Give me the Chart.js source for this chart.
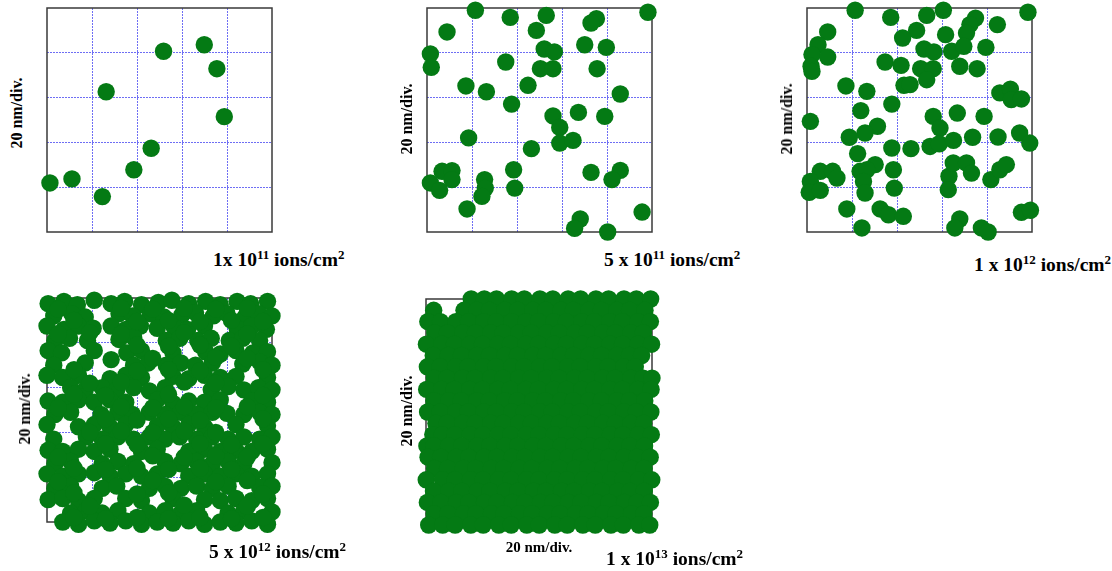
<!DOCTYPE html>
<html>
<head>
<meta charset="utf-8">
<script src="https://cdn.jsdelivr.net/npm/chart.js@4"></script>
<style>
  body { margin: 0; background: #fff; width: 1112px; height: 571px; position: relative; overflow: hidden;
         font-family: "Liberation Serif", "Times New Roman", serif; font-weight: bold; color: #000; }
  .panel { position: absolute; }
  .ylab { position: absolute; font-size: 16px; white-space: nowrap; transform: translate(-50%, -50%) rotate(-90deg); }
  .xlab { position: absolute; font-size: 15px; white-space: nowrap; transform: translate(-50%, -50%); }
  .cap { position: absolute; font-size: 19.5px; white-space: nowrap; line-height: 1; }
  .cap sup { font-size: 13px; vertical-align: 7px; line-height: 0; }
</style>
</head>
<body>

<div class="panel" id="w1"><canvas id="c1"></canvas></div>
<div class="panel" id="w2"><canvas id="c2"></canvas></div>
<div class="panel" id="w3"><canvas id="c3"></canvas></div>
<div class="panel" id="w4"><canvas id="c4"></canvas></div>
<div class="panel" id="w5"><canvas id="c5"></canvas></div>

<div class="ylab" style="left:17px; top:113px;">20 nm/div.</div>
<div class="ylab" style="left:407px; top:119px;">20 nm/div.</div>
<div class="ylab" style="left:787px; top:119px;">20 nm/div.</div>
<div class="ylab" style="left:25px; top:409px;">20 nm/div.</div>
<div class="ylab" style="left:407px; top:411px;">20 nm/div.</div>
<div class="xlab" style="left:539px; top:547px;">20 nm/div.</div>

<div class="cap" style="left:213px; top:250px;">1x 10<sup>11</sup> ions/cm<sup>2</sup></div>
<div class="cap" style="left:604px; top:250px;">5 x 10<sup>11</sup> ions/cm<sup>2</sup></div>
<div class="cap" style="left:974px; top:255px;">1 x 10<sup>12</sup> ions/cm<sup>2</sup></div>
<div class="cap" style="left:209px; top:542px;">5 x 10<sup>12</sup> ions/cm<sup>2</sup></div>
<div class="cap" style="left:606px; top:549px;">1 x 10<sup>13</sup> ions/cm<sup>2</sup></div>

<script>
// ion impact positions, nm (0-100 box, 20 nm/div)
var dose1e11 = [
  [1.3, 21.9], [11.1, 23.7], [24.6, 15.8], [26.3, 62.6], [38.6, 27.8],
  [46.3, 37.4], [51.8, 80.7], [69.9, 83.6], [75.5, 72.9], [78.8, 51.5]
];

var dose5e11 = [
  [21.5, 99], [8.9, 89.3], [37.0, 95.8], [53.0, 96.7], [48.6, 90.0], [75.3, 95.2], [72.9, 93.3],
  [98.2, 98.1], [1.5, 79.5], [1.9, 73.5], [70.1, 83.6], [79.7, 82.4], [52.1, 81.7], [56.6, 80.4],
  [35.0, 75.9], [50.4, 72.9], [56.0, 72.9], [75.6, 72.9], [17.3, 65.2], [26.4, 62.6], [44.9, 65.5],
  [85.9, 61.6], [37.6, 57.1], [56.0, 51.8], [67.3, 53.4], [79.0, 51.6], [59.0, 46.7], [18.5, 42.0],
  [59.0, 39.7], [64.9, 40.9], [46.4, 37.2], [1.5, 21.9], [6.7, 27.1], [11.1, 27.4], [11.1, 23.4],
  [5.6, 18.6], [25.6, 23.4], [25.9, 19.6], [24.4, 15.9], [38.5, 27.8], [39.0, 19.6], [17.8, 10.3],
  [72.9, 26.6], [85.9, 27.5], [82.2, 23.4], [95.6, 8.9], [68.1, 5.8], [65.6, 1.6], [80.3, 0]
];

var dose1e12 = [
  [21.4, 99], [37.2, 95.8], [53.2, 96.7], [60.6, 99], [98.2, 98.1], [9.2, 89.3], [48.7, 90.0],
  [42.5, 86.6], [74.9, 95.5], [72.4, 92.6], [70.9, 88.8], [84.6, 92.6], [61.6, 88.1], [4.9, 83.6],
  [2.2, 79.2], [9.2, 78.1], [1.8, 74.0], [2.2, 71.7], [52.0, 81.7], [56.4, 80.4], [64.3, 80.7],
  [69.7, 82.9], [79.5, 82.4], [34.7, 75.9], [41.8, 74.4], [50.5, 72.9], [56.1, 72.9], [67.9, 74.0],
  [75.6, 72.9], [53.2, 68.0], [17.3, 65.2], [26.6, 62.8], [43.1, 65.5], [45.8, 65.8], [85.7, 62.1],
  [90.4, 63.8], [90.8, 59.1], [95.3, 59.4], [37.7, 57.1], [23.9, 54.2], [1.5, 49.4], [56.1, 51.6],
  [59.1, 46.4], [66.8, 53.1], [78.7, 51.6], [31.3, 47.2], [25.8, 44.2], [18.8, 42.3], [54.7, 38.2],
  [58.8, 39.4], [65.1, 40.9], [73.6, 42.3], [84.9, 42.4], [94.5, 44.2], [99, 39.7], [37.7, 37.5],
  [46.2, 37.2], [22.5, 35.0], [5.9, 27.1], [11.4, 27.1], [13.3, 24.1], [1.5, 22.6], [1.0, 17.7],
  [5.9, 18.6], [23.6, 27.1], [30.3, 30.1], [26.6, 27.8], [25.1, 22.6], [25.8, 17.4], [38.4, 27.8],
  [38.8, 19.6], [17.7, 10.3], [32.5, 10.3], [36.2, 7.7], [42.8, 7.0], [24.4, 1.8], [63.1, 24.9],
  [65.0, 30.8], [70.9, 30.8], [73.1, 26.3], [62.8, 18.9], [81.7, 23.4], [85.7, 27.8], [88.6, 30.1],
  [95.3, 8.8], [99.3, 9.7], [67.9, 5.8], [65.7, 1.8], [77.5, 1.8], [80.5, 0]
];

var dose5e12 = [
  [0.5, 97.5], [7.5, 98.5], [13.5, 97], [21, 99], [28.5, 97.5], [34.5, 98.5], [42, 97], [49.5, 98], [55.5, 99], [63, 97.5], [70.5, 98.5], [77, 97], [84.5, 98.5], [90.5, 97.5], [98, 98.5],
  [3, 92], [11, 93], [17, 91.5], [32, 93], [38, 92], [46, 93], [52, 91.5], [60, 92.5], [66, 93.5], [74, 92], [80, 93], [88, 91.5], [94, 93], [100, 92],
  [0, 87.5], [7.5, 86], [14, 87.5], [20.5, 86.5], [28.5, 87.5], [35, 86], [41.5, 87.5], [49, 86.5], [56.5, 87], [62.5, 86], [70, 87.5], [84.5, 86.5], [91, 87.5], [97.5, 86],
  [3.5, 81], [10, 82], [18, 81], [32, 81.5], [38.5, 82.5], [53, 81], [59, 82], [67, 81], [73, 82], [81, 81], [87, 82], [94.5, 81],
  [0.5, 76.5], [6.5, 75.5], [21, 76.5], [35.5, 75.5], [42, 76.5], [56, 75.5], [70.5, 76], [77, 75], [84, 76.5], [91.5, 75.5], [98, 76],
  [3, 70], [17, 71], [28.5, 72.5], [38.5, 70], [45, 71], [53, 70], [59.5, 71], [66, 70], [73.5, 71], [87, 70.5], [94.5, 71.5], [100, 70],
  [0, 65.5], [7, 64.5], [14, 65.5], [28, 64], [35, 65.5], [42, 64.5], [56, 65], [63, 64], [70, 65.5], [77, 64.5], [84, 65], [98, 64.5],
  [10.5, 60], [17, 59], [24.5, 60], [31, 59], [38.5, 60], [45.5, 58.5], [52.5, 60], [73, 59], [80.5, 60.5], [87.5, 59], [94, 60], [100, 59],
  [0.5, 54], [7, 53.5], [14, 54.5], [21, 53.5], [28, 54.5], [35, 53.5], [49, 54.5], [56, 53], [63, 54], [70, 53.5], [77, 54.5], [91, 54], [98, 53.5],
  [3.5, 48], [10.5, 49], [24, 48], [31.5, 49], [38, 48], [45.5, 49], [52.5, 48], [59.5, 49], [66.5, 48], [73.5, 49], [80, 48.5], [87.5, 48], [94.5, 49], [100, 48],
  [0, 43.5], [14, 42.5], [21, 43.5], [28, 42.5], [35, 43.5], [49, 43], [56, 42.5], [63, 43.5], [70, 42.5], [84, 43.5], [98, 43],
  [3, 37], [17.5, 38], [24.5, 37], [31.5, 38], [38.5, 37], [45.5, 38], [52.5, 37], [59, 38], [66.5, 37], [73.5, 38], [80.5, 37], [87.5, 38], [94.5, 37], [100, 38],
  [0.5, 32], [7, 31.5], [14, 32.5], [21, 31.5], [28, 32.5], [42, 31.5], [49, 32.5], [63, 31.5], [70, 32.5], [77, 31.5], [84, 32], [91, 31.5], [98, 32.5],
  [3.5, 26], [10.5, 27], [24.5, 26], [31.5, 27], [38.5, 26], [52.5, 27], [59.5, 26], [66.5, 27], [73.5, 26], [80.5, 27], [87.5, 26], [100, 26.5],
  [0, 21.5], [7, 20.5], [14, 21.5], [21, 22], [28, 20.5], [35, 21.5], [42, 20.5], [49, 21.5], [63, 20.5], [70, 21.5], [77, 20.5], [84, 21.5], [91, 20.5], [98, 21.5],
  [3.5, 15], [10.5, 16], [24.5, 15], [31, 16], [45.5, 15], [52.5, 16], [59.5, 15], [66.5, 16], [73.5, 15], [80.5, 16], [94.5, 15.5], [100, 16],
  [0.5, 10], [7, 10.5], [14, 9.5], [21, 10.5], [35, 10.5], [42, 9.5], [56, 10.5], [70, 10], [77, 9.5], [84, 10.5], [91, 9.5], [98, 10.5],
  [10.5, 4], [17.5, 5], [24.5, 4], [31.5, 5], [45.5, 4], [52.5, 5], [59.5, 4], [66.5, 5], [80.5, 4], [87.5, 5], [100, 4.5],
  [7, 0], [14, -1], [21, 0.5], [28, -0.5], [35, 0.5], [42, -1], [49, 0], [56, -0.5], [63, 0.5], [70, -1], [77, 0], [84, -0.5], [91, 0.5], [98, -1],
  // in-between impacts
  [5, 95], [33, 95.5], [47, 95], [61, 95.5], [75, 95], [89, 95.5],
  [12, 90], [40, 89.5], [54, 90], [68, 89.5], [82, 90], [96, 89.5],
  [5, 84], [19, 84.5], [33, 84], [61, 84.5], [89, 84],
  [40, 79], [54, 78.5], [68, 79], [82, 78.5],
  [47, 73], [75, 73.5], [89, 73],
  [12, 68], [40, 67.5], [54, 68], [68, 67.5], [96, 68],
  [19, 62], [33, 62.5], [61, 62.5], [75, 62],
  [12, 57], [26, 56.5], [54, 57], [96, 56.5],
  [5, 51], [33, 51.5], [47, 51], [61, 51.5], [75, 51], [89, 51.5],
  [26, 46], [40, 45.5], [54, 46], [68, 45.5], [96, 46],
  [19, 40], [33, 40.5], [47, 40], [61, 40.5], [75, 40],
  [26, 35], [40, 34.5], [68, 35], [82, 34.5], [96, 35],
  [5, 29], [47, 29.5], [61, 29], [75, 29.5], [89, 29],
  [12, 24], [26, 23.5], [40, 24], [54, 23.5], [68, 24], [82, 23.5],
  [5, 18], [47, 18.5], [75, 18], [89, 18.5],
  [12, 13], [40, 12.5], [54, 13], [96, 12.5],
  [19, 7], [61, 7.5], [89, 7],
  [12, 2], [26, 1.5], [40, 2], [54, 1.5], [68, 2], [82, 1.5], [96, 2]
];

// 1e13: rows of [y, x, x, ...]
var dose1e13 = [
  [100, 20, 25.8, 31.2, 37.9, 43.5, 50.4, 56.1, 62.9, 68.4, 75.2, 80.8, 87.6, 93.1, 99.4],
  [95, 3.4, 16.8, 22.5, 28.1, 34.9, 40.6, 47.3, 53.0, 59.8, 65.2, 72.1, 77.6, 84.5, 90.1, 96.9],
  [90, 0.8, 6.4, 13.2, 18.8, 25.6, 31.1, 37.9, 44.2, 49.8, 56.6, 62.1, 68.9, 74.5, 81.4, 86.9, 93.8, 99.3],
  [85, 3.9, 9.5, 16.3, 21.9, 28.7, 34.2, 41.1, 46.6, 53.5, 59.0, 65.9, 71.4, 78.3, 83.8, 90.7, 96.2],
  [80, 0.2, 7.1, 12.6, 19.5, 25.0, 31.9, 37.4, 44.3, 49.8, 56.7, 62.2, 69.1, 74.6, 81.5, 87.0, 93.9, 99.8],
  [75, 3.2, 9.9, 15.7, 22.6, 28.1, 35.0, 40.5, 47.4, 52.9, 59.8, 65.3, 72.2, 77.7, 84.6, 90.1, 95.4],
  [70, 0.6, 6.2, 13.1, 18.6, 25.5, 31.0, 37.9, 43.4, 50.3, 55.8, 62.7, 68.2, 75.1, 80.6, 87.5, 92.6],
  [65, 3.7, 9.3, 16.2, 21.7, 28.6, 34.1, 41.0, 46.5, 53.4, 58.9, 65.8, 71.3, 78.2, 83.7, 90.6, 96.1, 100],
  [60, 0.3, 7.0, 12.5, 19.4, 24.9, 31.8, 37.3, 44.2, 49.7, 56.6, 62.1, 69.0, 74.5, 81.4, 86.9, 93.8, 99.6],
  [55, 3.5, 10.1, 15.6, 22.5, 28.0, 34.9, 40.4, 47.3, 52.8, 59.7, 65.2, 72.1, 77.6, 84.5, 90.0, 96.8],
  [50, 0.7, 6.3, 13.2, 18.7, 25.6, 31.1, 38.0, 43.5, 50.4, 55.9, 62.8, 68.3, 75.2, 80.7, 87.6, 93.1, 99.5],
  [45, 4.4, 9.4, 16.3, 21.8, 28.7, 34.2, 41.1, 46.6, 53.5, 59.0, 65.9, 71.4, 78.3, 83.8, 90.7, 96.3],
  [40, 3.0, 7.2, 12.7, 19.6, 25.1, 32.0, 37.5, 44.4, 49.9, 56.8, 62.3, 69.2, 74.7, 81.6, 87.1, 94.0, 99.7],
  [35, 0.4, 3.6, 10.0, 15.8, 22.7, 28.2, 35.1, 40.6, 47.5, 53.0, 59.9, 65.4, 72.3, 77.8, 84.7, 90.2, 96.7],
  [30, 0.9, 6.5, 13.4, 18.9, 25.8, 31.3, 38.2, 43.7, 50.6, 56.1, 63.0, 68.5, 75.4, 80.9, 87.8, 93.3, 99.2],
  [25, 3.8, 9.6, 16.5, 22.0, 28.9, 34.4, 41.3, 46.8, 53.7, 59.2, 66.1, 71.6, 78.5, 84.0, 90.9, 96.5],
  [20, 0.1, 7.3, 12.8, 19.7, 25.2, 32.1, 37.6, 44.5, 50.0, 56.9, 62.4, 69.3, 74.8, 81.7, 87.2, 94.1, 99.9],
  [15, 3.3, 10.2, 15.9, 22.8, 28.3, 35.2, 40.7, 47.6, 53.1, 60.0, 65.5, 72.4, 77.9, 84.8, 90.3, 96.6],
  [10, 0.6, 6.6, 13.5, 19.0, 25.9, 31.4, 38.3, 43.8, 50.7, 56.2, 63.1, 68.6, 75.5, 81.0, 87.9, 93.4, 99.3],
  [5, 3.6, 9.7, 16.6, 22.1, 29.0, 34.5, 41.4, 46.9, 53.8, 59.3, 66.2, 71.7, 78.6, 84.1, 91.0, 96.4],
  [0, 1.2, 7.4, 12.9, 19.8, 25.3, 32.2, 37.7, 44.6, 50.1, 57.0, 62.5, 69.4, 74.9, 81.8, 87.3, 94.2, 99.0]
];

var GREEN = '#047a14';
var PAD = 14;

// plot boxes in page pixels: left, top, right, bottom
var boxes = [
  [47, 8, 272, 232],
  [427, 8, 652, 232],
  [807, 8, 1032, 232],
  [47, 298, 272, 522],
  [426, 299, 652, 525]
];

function rowsToPoints(rows) {
  var out = [];
  rows.forEach(function (r) {
    for (var i = 1; i < r.length; i++) out.push([r[i], r[0]]);
  });
  return out;
}

var frame = {
  id: 'frame',
  beforeDatasetsDraw: function (chart) {
    var a = chart.chartArea, ctx = chart.ctx;
    ctx.save();
    ctx.strokeStyle = '#3a3a3a';
    ctx.lineWidth = 1.5;
    ctx.strokeRect(a.left, a.top, a.right - a.left, a.bottom - a.top);
    ctx.restore();
  }
};

function axis() {
  return {
    type: 'linear', min: 0, max: 100,
    ticks: { display: false, stepSize: 20 },
    grid: {
      drawTicks: false, lineWidth: 1,
      color: function (c) {
        var v = c.tick ? c.tick.value : 0;
        return (v === 0 || v === 100) ? 'rgba(0,0,0,0)' : '#6e6ef4';
      }
    },
    border: { display: false, dash: [2, 1] }
  };
}

function makePanel(n, pts) {
  var b = boxes[n - 1];
  var w = b[2] - b[0] + 2 * PAD, h = b[3] - b[1] + 2 * PAD;
  var wrap = document.getElementById('w' + n);
  wrap.style.left = (b[0] - PAD) + 'px';
  wrap.style.top = (b[1] - PAD) + 'px';
  var cv = document.getElementById('c' + n);
  cv.width = w; cv.height = h;
  cv.style.width = w + 'px'; cv.style.height = h + 'px';

  new Chart(cv, {
    type: 'scatter',
    data: {
      datasets: [{
        data: pts.map(function (p) { return { x: p[0], y: p[1] }; }),
        backgroundColor: GREEN,
        borderWidth: 0,
        pointRadius: 8.7,
        pointHoverRadius: 8.7,
        clip: false
      }]
    },
    options: {
      responsive: false,
      animation: false,
      events: [],
      layout: { padding: PAD },
      plugins: { legend: { display: false }, tooltip: { enabled: false } },
      scales: { x: axis(), y: axis() }
    },
    plugins: [frame]
  });
}

makePanel(1, dose1e11);
makePanel(2, dose5e11);
makePanel(3, dose1e12);
makePanel(4, dose5e12);
makePanel(5, rowsToPoints(dose1e13));
</script>
</body>
</html>
